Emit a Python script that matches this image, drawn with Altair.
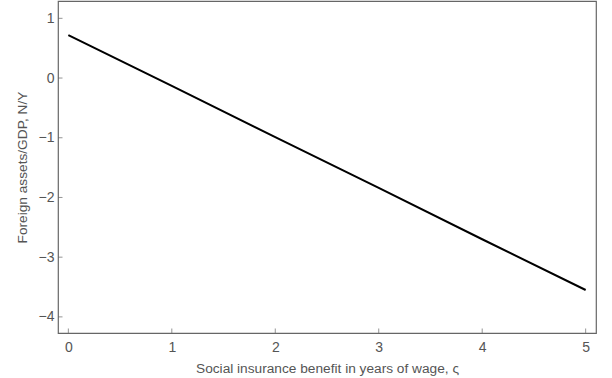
import altair as alt
import pandas as pd

# Data
x_vals = [0, 1, 2, 3, 4, 5]
y_vals = [0.72, -0.13, -0.99, -1.84, -2.70, -3.55]
x_ticks = [0, 1, 2, 3, 4, 5]
y_ticks = [-4, -3, -2, -1, 0, 1]

line_df = pd.DataFrame({"x": x_vals, "y": y_vals})
xt_df = pd.DataFrame({"x": x_ticks})
yt_df = pd.DataFrame({"y": y_ticks})

W, H = 538, 332
FONT = "Liberation Sans"
GRAY = "#555555"

xscale = alt.Scale(domain=[-0.1, 5.1], nice=False, zero=False)
yscale = alt.Scale(domain=[-4.27, 1.29], nice=False, zero=False)

xaxis = alt.Axis(values=x_ticks, title="Social insurance benefit in years of wage, ς",
                 grid=False, ticks=False, domain=False, labelPadding=7,
                 titlePadding=7, format="d", labelFontSize=14)
yaxis = alt.Axis(values=y_ticks, title="Foreign assets/GDP, N/Y",
                 grid=False, ticks=False, domain=False, labelPadding=4,
                 titlePadding=9, format="d", labelFontSize=14)

line = alt.Chart(line_df).mark_line(color="black", strokeWidth=2).encode(
    x=alt.X("x:Q", scale=xscale, axis=xaxis),
    y=alt.Y("y:Q", scale=yscale, axis=yaxis),
)

xt = alt.Chart(xt_df).mark_tick(orient="vertical", size=9, thickness=1,
                                color="#666666", clip=True).encode(
    x=alt.X("x:Q", scale=xscale),
    y=alt.value(H),
)
yt = alt.Chart(yt_df).mark_tick(orient="horizontal", size=9, thickness=1,
                                color="#666666", clip=True).encode(
    y=alt.Y("y:Q", scale=yscale),
    x=alt.value(0),
)

chart = alt.layer(line, xt, yt).properties(
    width=W, height=H,
    autosize=alt.AutoSizeParams(type="none"),
    padding={"left": 58, "top": 1, "right": 16, "bottom": 45},
).configure_view(
    stroke="#666666", strokeWidth=1.2
).configure_axis(
    labelFont=FONT, titleFont=FONT, titleFontSize=13.7,
    labelColor=GRAY, titleColor=GRAY, titleFontWeight="normal",
)

chart.save("out.html", embed_options={"renderer": "svg", "actions": False})
